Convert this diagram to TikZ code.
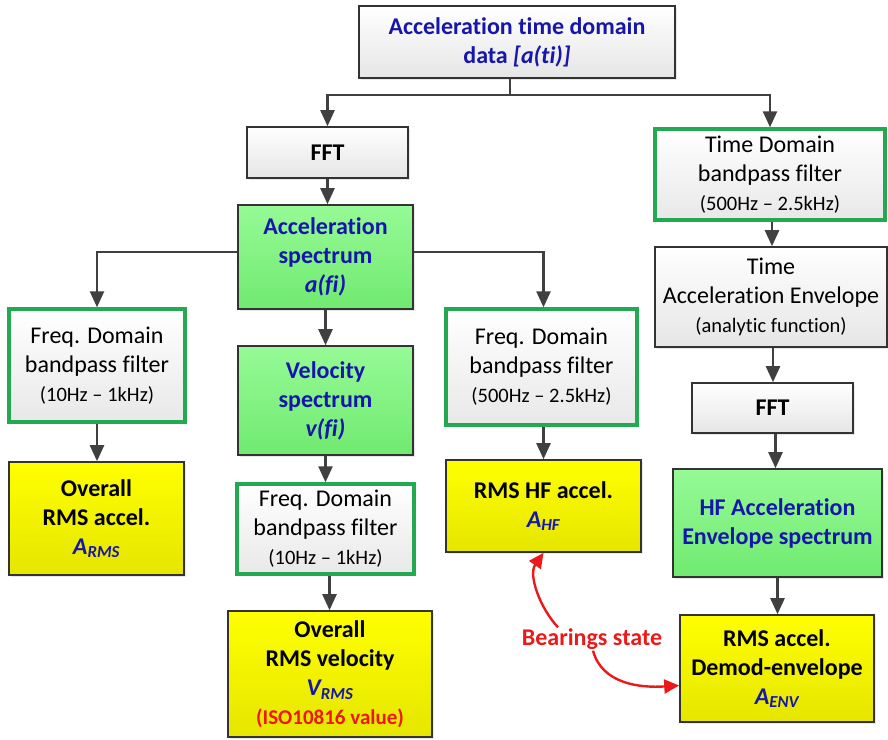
\documentclass[tikz,border=0pt]{standalone}
\usepackage{fontspec}
\setmainfont[Ligatures={TeX,NoCommon}]{Carlito}
\usepackage{xcolor}
\usetikzlibrary{arrows.meta,shadows}

\definecolor{txtblue}{RGB}{22,22,170}
\definecolor{linegray}{RGB}{64,64,64}
\definecolor{filtgreen}{RGB}{35,170,80}
\definecolor{bearred}{RGB}{235,25,25}
\definecolor{greentop}{RGB}{150,250,150}
\definecolor{greenbot}{RGB}{112,234,112}

\newcommand{\smallline}[1]{{\fontsize{20.5}{26}\selectfont #1}}

\begin{document}
\begin{tikzpicture}[x=1pt,y=-1pt,
    box/.style={draw=black!80,line width=1.6pt,align=center,inner sep=0pt,
        font=\fontsize{24}{29}\selectfont,
        drop shadow={opacity=0.18,shadow xshift=2pt,shadow yshift=-2pt}},
    graybox/.style={box,top color=white,bottom color=black!10},
    greenbox/.style={box,top color=greentop,bottom color=greenbot},
    filterbox/.style={box,draw=filtgreen,line width=3.4pt,top color=white,bottom color=black!9},
    yellowbox/.style={box,top color=yellow,bottom color=yellow!90!black},
    hi/.style={text=txtblue},
    flow/.style={draw=linegray,line width=2.4pt,-{Triangle[width=14pt,length=16pt]}},
    bearflow/.style={draw=bearred,line width=2.4pt,-{Triangle[width=14pt,length=15pt]}}]
    \useasboundingbox (0,0) rectangle (888,739);

    % Time domain branch head
    \node[graybox,minimum width=316pt,minimum height=72pt,hi] (data) at (517,42)
        {\bfseries Acceleration time domain\\\bfseries data \textit{[a(ti)]}};
    \coordinate (split) at (510,95);

    % Middle column
    \node[graybox,minimum width=161pt,minimum height=51pt] (fftA) at (327.5,152.5) {\bfseries FFT};
    \node[greenbox,minimum width=175pt,minimum height=104pt,hi] (accSp) at (325.5,257)
        {\bfseries Acceleration\\\bfseries spectrum\\\bfseries\itshape a(fi)};
    \node[greenbox,minimum width=175pt,minimum height=109pt,hi] (velSp) at (325.5,400.5)
        {\bfseries Velocity\\\bfseries spectrum\\\bfseries\itshape v(fi)};
    \node[filterbox,minimum width=177pt,minimum height=90pt] (filtB) at (325.5,529)
        {Freq. Domain\\bandpass filter\\\smallline{(10Hz -- 1kHz)}};
    \node[yellowbox,minimum width=204pt,minimum height=126pt] (vRms) at (330,674)
        {\bfseries Overall\\\bfseries RMS velocity\\
         \bfseries\color{txtblue}\textit{V\textsubscript{RMS}}\\
         \bfseries\color{bearred}{\fontsize{21}{26}\selectfont (ISO10816 value)}};

    % Left column
    \node[filterbox,minimum width=176pt,minimum height=113pt] (filtA) at (97,365.5)
        {Freq. Domain\\bandpass filter\\\smallline{(10Hz -- 1kHz)}};
    \node[yellowbox,minimum width=175pt,minimum height=113pt] (aRms) at (96.5,518.5)
        {\bfseries Overall\\\bfseries RMS accel.\\\bfseries\color{txtblue}\textit{A\textsubscript{RMS}}};

    % HF column
    \node[filterbox,minimum width=191pt,minimum height=116pt] (filtC) at (541.5,367)
        {Freq. Domain\\bandpass filter\\\smallline{(500Hz -- 2.5kHz)}};
    \node[yellowbox,minimum width=195pt,minimum height=92pt] (aHF) at (543.5,506)
        {\bfseries RMS HF accel.\\\bfseries\color{txtblue}\textit{A\textsubscript{HF}}};

    % Envelope column
    \node[filterbox,minimum width=230pt,minimum height=91pt] (tFilt) at (770,174.5)
        {Time Domain\\bandpass filter\\\smallline{(500Hz -- 2.5kHz)}};
    \node[graybox,minimum width=232pt,minimum height=100pt] (env) at (771,297)
        {Time\\Acceleration Envelope\\\smallline{(analytic function)}};
    \node[graybox,minimum width=161pt,minimum height=50pt] (fftB) at (772.5,408) {\bfseries FFT};
    \node[greenbox,minimum width=209pt,minimum height=108pt,hi] (hfSp) at (777.5,523)
        {\bfseries HF Acceleration\\\bfseries Envelope spectrum};
    \node[yellowbox,minimum width=194pt,minimum height=107pt] (aEnv) at (777,668.5)
        {\bfseries RMS accel.\\\bfseries Demod-envelope\\\bfseries\color{txtblue}\textit{A\textsubscript{ENV}}};

    % Bearings label
    \node[font=\fontsize{24}{28}\selectfont\bfseries,text=bearred,inner sep=1pt] (bear) at (592,639)
        {Bearings state};

    % Connectors
    \draw[draw=linegray,line width=2.4pt] (data.south -| split) -- (split);
    \draw[flow] (split) -| (fftA.north);
    \draw[flow] (split) -| (tFilt.north);
    \draw[flow] (fftA.south) -- (fftA.south |- accSp.north);
    \draw[flow] ([yshift=5pt]accSp.west) -| (filtA.north);
    \draw[flow] ([yshift=5pt]accSp.east) -| ([xshift=2pt]filtC.north);
    \draw[flow] (accSp.south) -- (accSp.south |- velSp.north);
    \draw[flow] (velSp.south) -- (velSp.south |- filtB.north);
    \draw[flow] ([xshift=4pt]filtB.south) -- ([xshift=4pt]filtB.south |- vRms.north);
    \draw[flow] (filtA.south) -- (filtA.south |- aRms.north);
    \draw[flow] ([xshift=2pt]filtC.south) -- ([xshift=2pt]filtC.south |- aHF.north);
    \draw[flow] ([xshift=2pt]tFilt.south) -- ([xshift=2pt]tFilt.south |- env.north);
    \draw[flow] ([xshift=2pt]env.south) -- ([xshift=2pt]env.south |- fftB.north);
    \draw[flow] ([xshift=3pt]fftB.south) -- ([xshift=3pt]fftB.south |- hfSp.north);
    \draw[flow] (hfSp.south) -- (hfSp.south |- aEnv.north);

    % Bearings arrows
    \draw[bearflow] ([xshift=-34pt]bear.north) .. controls (540,608) and (528,575) .. (aHF.south);
    \draw[bearflow] ([xshift=1pt]bear.south) .. controls (602,684) and (640,688) .. ([yshift=-17pt]aEnv.west);
\end{tikzpicture}
\end{document}
